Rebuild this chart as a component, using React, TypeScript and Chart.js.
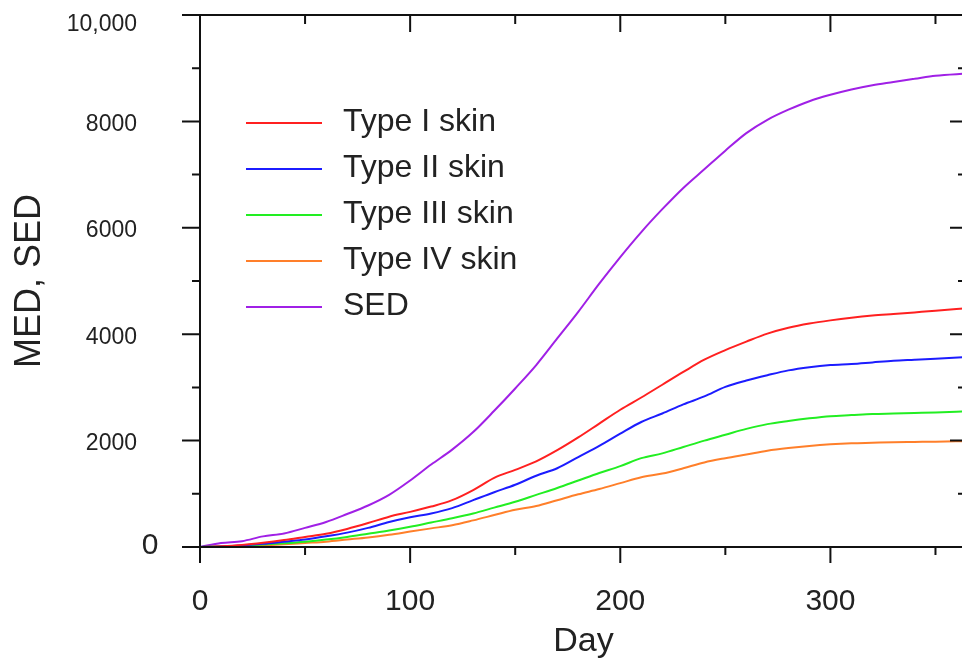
import React, { useEffect, useRef } from "react";
import { Chart, registerables } from "chart.js";

Chart.register(...registerables);

const days = [0, 10, 20, 30, 40, 50, 60, 70, 80, 90, 100, 110, 120, 130, 140, 150, 160, 170, 180, 190, 200, 210, 220, 230, 240, 250, 260, 270, 280, 290, 300, 310, 320, 330, 340, 350, 365];

const typeI = [0, 15, 40, 80, 130, 190, 250, 340, 450, 570, 660, 760, 880, 1070, 1300, 1450, 1610, 1820, 2060, 2320, 2580, 2810, 3050, 3290, 3520, 3700, 3860, 4010, 4120, 4200, 4260, 4310, 4350, 4380, 4410, 4440, 4490];
const typeII = [0, 10, 30, 60, 100, 140, 200, 270, 360, 470, 560, 630, 730, 880, 1030, 1170, 1340, 1480, 1690, 1900, 2130, 2350, 2510, 2680, 2830, 3010, 3130, 3230, 3320, 3380, 3420, 3440, 3470, 3500, 3520, 3540, 3570];
const typeIII = [0, 10, 25, 45, 70, 100, 140, 190, 250, 310, 380, 460, 540, 630, 740, 850, 980, 1110, 1250, 1390, 1520, 1670, 1760, 1880, 2000, 2110, 2220, 2310, 2370, 2420, 2460, 2480, 2500, 2510, 2520, 2530, 2550];
const typeIV = [0, 5, 15, 30, 50, 75, 100, 140, 180, 230, 290, 350, 410, 500, 600, 700, 770, 880, 990, 1090, 1200, 1310, 1380, 1480, 1590, 1670, 1740, 1810, 1860, 1900, 1930, 1950, 1960, 1970, 1975, 1980, 1990];
const sed = [0, 75, 110, 200, 255, 360, 470, 620, 780, 980, 1250, 1550, 1830, 2160, 2560, 2980, 3420, 3920, 4420, 4950, 5450, 5920, 6350, 6750, 7100, 7450, 7780, 8030, 8220, 8380, 8500, 8600, 8680, 8740, 8800, 8860, 8900];

const seriesLabels = ["Type I skin", "Type II skin", "Type III skin", "Type IV skin", "SED"];
const seriesColors = ["#ff2020", "#1c1cff", "#22ee22", "#ff7f2a", "#a020e6"];
const seriesValues = [typeI, typeII, typeIII, typeIV, sed];

const xTitle = "Day";
const yTitle = "MED, SED";

const FONT = "'Liberation Sans', Arial, sans-serif";
const TEXT = "#222";

const framePlugin = {
  id: "frame",
  afterDraw(chart: any) {
    const ctx = chart.ctx;
    const xs = chart.scales.x;
    const ys = chart.scales.y;
    const { left, right, top, bottom } = chart.chartArea;
    ctx.save();
    ctx.strokeStyle = "#111";
    ctx.lineWidth = 2;
    ctx.beginPath();
    ctx.moveTo(left, top);
    ctx.lineTo(left, bottom + 16);
    ctx.moveTo(left - 18, bottom);
    ctx.lineTo(right, bottom);
    ctx.moveTo(left - 18, top);
    ctx.lineTo(right, top);
    ctx.moveTo(right, top);
    ctx.lineTo(right, bottom);
    for (let v = 1000; v < 10000; v += 1000) {
      const y = ys.getPixelForValue(v);
      const major = v % 2000 === 0;
      ctx.moveTo(left - (major ? 18 : 8), y);
      ctx.lineTo(left, y);
      ctx.moveTo(right - (major ? 17 : 9), y);
      ctx.lineTo(right, y);
    }
    for (let d = 50; d <= 350; d += 50) {
      const x = xs.getPixelForValue(d);
      const major = d % 100 === 0;
      ctx.moveTo(x, bottom);
      ctx.lineTo(x, bottom + (major ? 16 : 8));
      ctx.moveTo(x, top);
      ctx.lineTo(x, top + (major ? 17 : 9));
    }
    ctx.stroke();

    ctx.fillStyle = TEXT;
    ctx.textBaseline = "middle";
    ctx.font = `30px ${FONT}`;
    ctx.textAlign = "center";
    ctx.fillText("0", 150, ys.getPixelForValue(0) - 1);
    ctx.font = `23px ${FONT}`;
    ctx.textAlign = "right";
    ctx.fillText("10,000", 137, ys.getPixelForValue(10000) + 10);

    const rowY = [123, 169, 215, 261, 307];
    ctx.font = `32px ${FONT}`;
    ctx.textAlign = "left";
    chart.data.datasets.forEach((ds: any, i: number) => {
      const y = rowY[i];
      ctx.strokeStyle = ds.borderColor;
      ctx.lineWidth = 2;
      ctx.beginPath();
      ctx.moveTo(246, y);
      ctx.lineTo(322, y);
      ctx.stroke();
      ctx.fillStyle = TEXT;
      ctx.fillText(ds.label, 343, y - 1);
    });
    ctx.restore();
  },
};

export default function App() {
  const ref = useRef<HTMLCanvasElement | null>(null);
  useEffect(() => {
    if (!ref.current) return;
    const chart = new Chart(ref.current, {
      type: "line",
      data: {
        datasets: seriesLabels.map((label, i) => ({
          label,
          data: days.map((d, j) => ({ x: d, y: seriesValues[i][j] })),
          borderColor: seriesColors[i],
          backgroundColor: seriesColors[i],
          borderWidth: 2,
          pointRadius: 0,
          cubicInterpolationMode: "monotone" as const,
          fill: false,
        })),
      },
      options: {
        animation: false,
        responsive: false,
        devicePixelRatio: 1,
        layout: { padding: { top: 15, right: 8, left: 0, bottom: 0 } },
        plugins: { legend: { display: false }, tooltip: { enabled: false } },
        scales: {
          x: {
            type: "linear",
            min: 0,
            max: 365,
            grid: { display: false, drawTicks: true, tickLength: 37 },
            border: { display: false },
            ticks: {
              stepSize: 100,
              includeBounds: false,
              autoSkip: false,
              maxRotation: 0,
              padding: 0,
              color: TEXT,
              font: { family: FONT, size: 30 },
              callback: (v: any) => (Number(v) % 100 === 0 ? String(v) : ""),
            },
            title: {
              display: true,
              text: xTitle,
              color: TEXT,
              font: { family: FONT, size: 34, lineHeight: 1 },
              padding: { top: 0, bottom: 0 },
            },
            afterFit: (s: any) => {
              s.height = 112;
              s.paddingLeft = 0;
              s.paddingRight = 0;
            },
          },
          y: {
            type: "linear",
            min: 0,
            max: 10000,
            grid: { display: false, drawTicks: true, tickLength: 63 },
            border: { display: false },
            ticks: {
              stepSize: 2000,
              padding: 0,
              labelOffset: 3,
              color: TEXT,
              font: { family: FONT, size: 23 },
              callback: (v: any) => (Number(v) === 0 || Number(v) === 10000 ? "" : String(v)),
            },
            title: {
              display: true,
              text: yTitle,
              color: TEXT,
              font: { family: FONT, size: 36, lineHeight: 1 },
              padding: { top: 12, bottom: 0 },
            },
            afterFit: (s: any) => {
              s.width = 200;
              s.paddingTop = 0;
              s.paddingBottom = 0;
            },
          },
        },
      },
      plugins: [framePlugin],
    });
    return () => chart.destroy();
  }, []);
  return (
    <div style={{ position: "fixed", left: 0, top: 0, width: 975, height: 659, background: "#fff" }}>
      <canvas ref={ref} width={975} height={659} style={{ width: 975, height: 659, display: "block" }} />
    </div>
  );
}
